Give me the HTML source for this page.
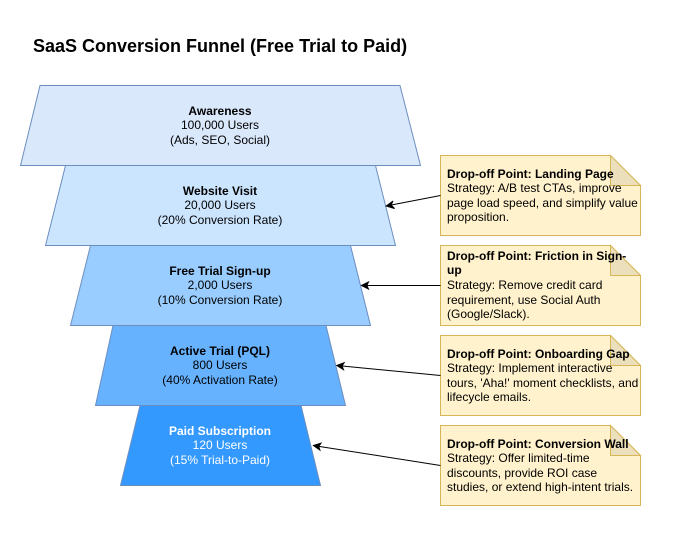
<!DOCTYPE html>
<html>
<head>
<meta charset="utf-8">
<style>
html,body{margin:0;padding:0;background:#fff;width:681px;height:546px;overflow:hidden}
svg{display:block}
text{font-family:"Liberation Sans",Arial,Helvetica,sans-serif;font-size:12px;fill:#000}
.c{text-anchor:middle}
.b{font-weight:bold}
.w{fill:#fff}
.t{fill:#dae8fc}
</style>
</head>
<body>
<svg width="681" height="546" viewBox="0 0 681 546" xmlns="http://www.w3.org/2000/svg">
<rect width="681" height="546" fill="#fff"/>
<text x="33" y="52" style="font-size:18px;font-weight:bold">SaaS Conversion Funnel (Free Trial to Paid)</text>

<polygon points="40,85.5 400,85.5 420.5,165.5 20.5,165.5" fill="#dae8fc" stroke="#6c8ebf"/>
<polygon points="65.5,165.5 375.5,165.5 395.5,245.5 45.5,245.5" fill="#cce5ff" stroke="#6c8ebf"/>
<polygon points="90.5,245.5 350.5,245.5 370.5,325.5 70.5,325.5" fill="#99ccff" stroke="#6c8ebf"/>
<polygon points="113,325.5 326,325.5 345.5,405.5 95.5,405.5" fill="#66b2ff" stroke="#6c8ebf"/>
<polygon points="140,405.5 301,405.5 320.5,485.5 120.5,485.5" fill="#3399ff" stroke="#6c8ebf"/>

<g class="c">
<text class="c b" x="220" y="115">Awareness</text>
<text class="c" x="220" y="129">100,000 Users</text>
<text class="c" x="220" y="144">(Ads, SEO, Social)</text>
<text class="c b" x="220" y="195">Website Visit</text>
<text class="c" x="220" y="209">20,000 Users</text>
<text class="c" x="220" y="224">(20% Conversion Rate)</text>
<text class="c b" x="220" y="275">Free Trial Sign-up</text>
<text class="c" x="220" y="289">2,000 Users</text>
<text class="c" x="220" y="304">(10% Conversion Rate)</text>
<text class="c b" x="220" y="355">Active Trial (PQL)</text>
<text class="c" x="220" y="369">800 Users</text>
<text class="c" x="220" y="384">(40% Activation Rate)</text>
<text class="c b w" x="220" y="435">Paid Subscription</text>
<text class="c w" x="220" y="449">120 Users</text>
<text class="c w" x="220" y="464">(15% Trial-to-Paid)</text>
</g>

<g fill="#fff2cc" stroke="#d6b656">
<path d="M440.5,155.5H610.5L640.5,185.5V235.5H440.5Z"/>
<path d="M610.5,155.5V185.5H640.5Z" fill="#ecdfbc"/>
<path d="M440.5,245.5H610.5L640.5,275.5V325.5H440.5Z"/>
<path d="M610.5,245.5V275.5H640.5Z" fill="#ecdfbc"/>
<path d="M440.5,335.5H610.5L640.5,365.5V415.5H440.5Z"/>
<path d="M610.5,335.5V365.5H640.5Z" fill="#ecdfbc"/>
<path d="M440.5,425.5H610.5L640.5,455.5V505.5H440.5Z"/>
<path d="M610.5,425.5V455.5H640.5Z" fill="#ecdfbc"/>
</g>

<text class="b" x="447" y="178">Drop-off Point: Landing Page</text>
<text x="447" y="192">Strategy: A/B test CTAs, improve</text>
<text x="447" y="207">page load speed, and simplify value</text>
<text x="447" y="221">proposition.</text>

<text class="b" x="447" y="260">Drop-off Point: Friction in Sign-</text>
<text class="b" x="447" y="274">up</text>
<text x="447" y="289">Strategy: Remove credit card</text>
<text x="447" y="304">requirement, use Social Auth</text>
<text x="447" y="318">(Google/Slack).</text>

<text class="b" x="447" y="358">Drop-off Point: Onboarding Gap</text>
<text x="447" y="372">Strategy: Implement interactive</text>
<text x="447" y="387">tours, 'Aha!' moment checklists, and</text>
<text x="447" y="401">lifecycle emails.</text>

<text class="b" x="447" y="448">Drop-off Point: Conversion Wall</text>
<text x="447" y="462">Strategy: Offer limited-time</text>
<text x="447" y="477">discounts, provide ROI case</text>
<text x="447" y="491">studies, or extend high-intent trials.</text>

<g stroke="#000" fill="none">
<line x1="440.5" y1="195.5" x2="390" y2="205.3"/>
<line x1="440.5" y1="285.5" x2="366" y2="285.5"/>
<line x1="440.5" y1="375.5" x2="341" y2="365.9"/>
<line x1="440.5" y1="465.5" x2="318" y2="446.2"/>
</g>
<g fill="#000" stroke="#000">
<path d="M386.2,206 L393,201 L391,205 L394.6,208.5Z"/>
<path d="M361.5,285.5 L368.5,282 L366.8,285.5 L368.5,289Z"/>
<path d="M336.8,365.5 L344.1,362.7 L342.1,366 L343.5,369.7Z"/>
<path d="M313.5,445.5 L321,443.2 L318.8,446.4 L319.9,450.1Z"/>
</g>
</svg>
</body>
</html>
